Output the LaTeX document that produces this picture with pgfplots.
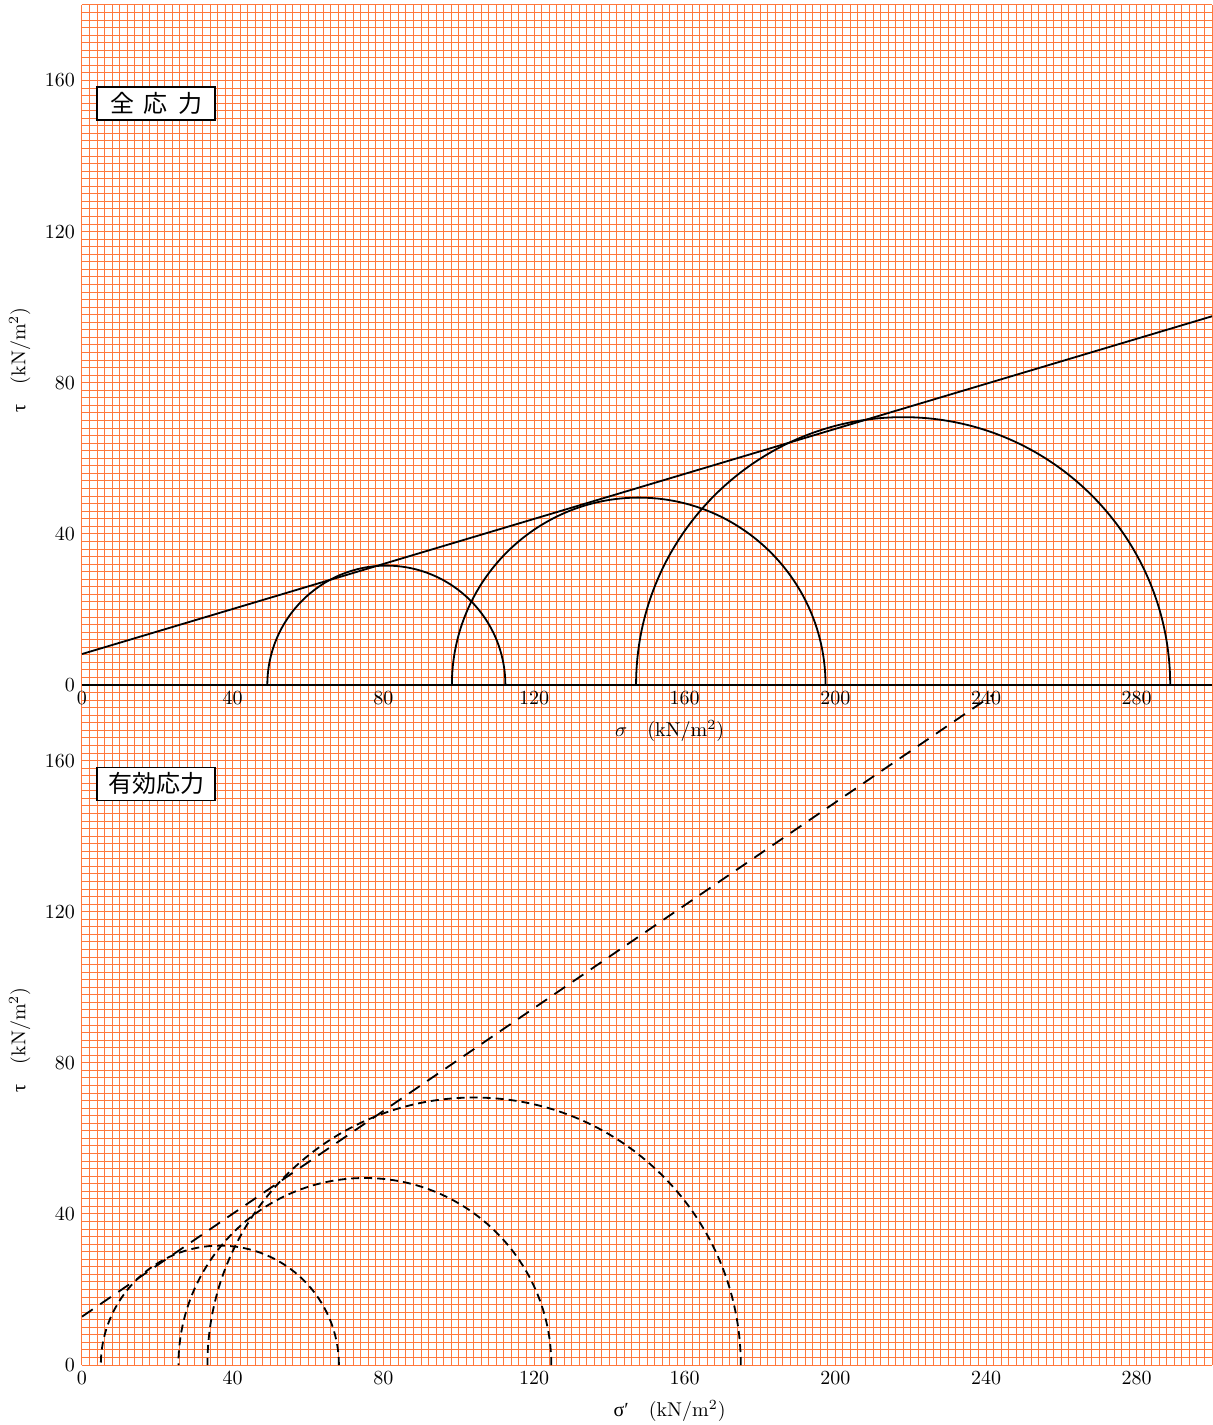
\documentclass[border=0pt]{standalone}
\usepackage{fontspec}
\usepackage{pgfplots}
\pgfplotsset{compat=1.18}
\newfontfamily\cjk{Noto Sans CJK JP}
\newfontfamily\grk{Liberation Serif}
\definecolor{gridorange}{RGB}{255,120,60}

\tikzset{
  title box/.style={draw=black, fill=white, line width=0.6pt,
    minimum width=59pt, minimum height=16.5pt, inner sep=0pt,
    font=\cjk\fontsize{12}{14}\selectfont},
}
\pgfplotsset{
  mohr/.style={
    scale only axis, width=565pt, height=340pt,
    xmin=0, xmax=300, ymin=0, ymax=180,
    xtick={0,40,...,280}, ytick={0,40,...,160},
    minor xtick={0,2,...,300}, minor ytick={0,2,...,180},
    grid=minor,
    minor grid style={gridorange, line width=0.5pt},
    major tick length=0pt, minor tick length=0pt,
    axis line style={draw=none},
    tick label style={font=\fontsize{10}{12}\selectfont},
    label style={font=\fontsize{10}{12}\selectfont},
    ylabel={{\grk τ}\quad(kN/m$^2$)},
    ylabel style={at={(axis description cs:-0.055,0.478)}, anchor=center},
    xlabel style={at={(axis description cs:0.52,-0.068)}, anchor=center},
  }
}

\begin{document}
\begin{tikzpicture}
% effective stress (bottom)
\begin{axis}[mohr, at={(0,-340pt)}, anchor=south west,
  xlabel={{\grk σ′}\quad(kN/m$^2$)}]
\addplot[black, line width=0.9pt, dash pattern=on 6.5pt off 4.5pt] coordinates {(0,12.8) (242,177.5)};
\draw[black, line width=0.9pt, dash pattern=on 4pt off 2.5pt] (axis cs:68.2,0) arc[start angle=0, end angle=180, radius=31.6];
\draw[black, line width=0.9pt, dash pattern=on 4pt off 2.5pt] (axis cs:124.6,0) arc[start angle=0, end angle=180, radius=49.5];
\draw[black, line width=0.9pt, dash pattern=on 4pt off 2.5pt] (axis cs:174.9,0) arc[start angle=0, end angle=180, radius=70.8];
\node[title box] at (axis cs:19.65,153.9) {有効応力};
\end{axis}
% total stress (top)
\begin{axis}[mohr, at={(0,0)}, anchor=south west,
  xlabel={$\sigma$\quad(kN/m$^2$)}]
\addplot[black, line width=1pt] coordinates {(0,0) (300,0)};
\addplot[black, line width=0.9pt] coordinates {(0,8.2) (300,97.6)};
\draw[black, line width=0.9pt] (axis cs:112.4,0) arc[start angle=0, end angle=180, radius=31.6];
\draw[black, line width=0.9pt] (axis cs:197.4,0) arc[start angle=0, end angle=180, radius=49.6];
\draw[black, line width=0.9pt] (axis cs:288.9,0) arc[start angle=0, end angle=180, radius=70.9];
\node[title box] at (axis cs:19.65,153.9) {全\hspace{5pt}応\hspace{5pt}力};
\end{axis}
\pgfresetboundingbox
\path[use as bounding box] (-41pt,-370pt) rectangle (565pt,342.5pt);
\end{tikzpicture}
\end{document}
